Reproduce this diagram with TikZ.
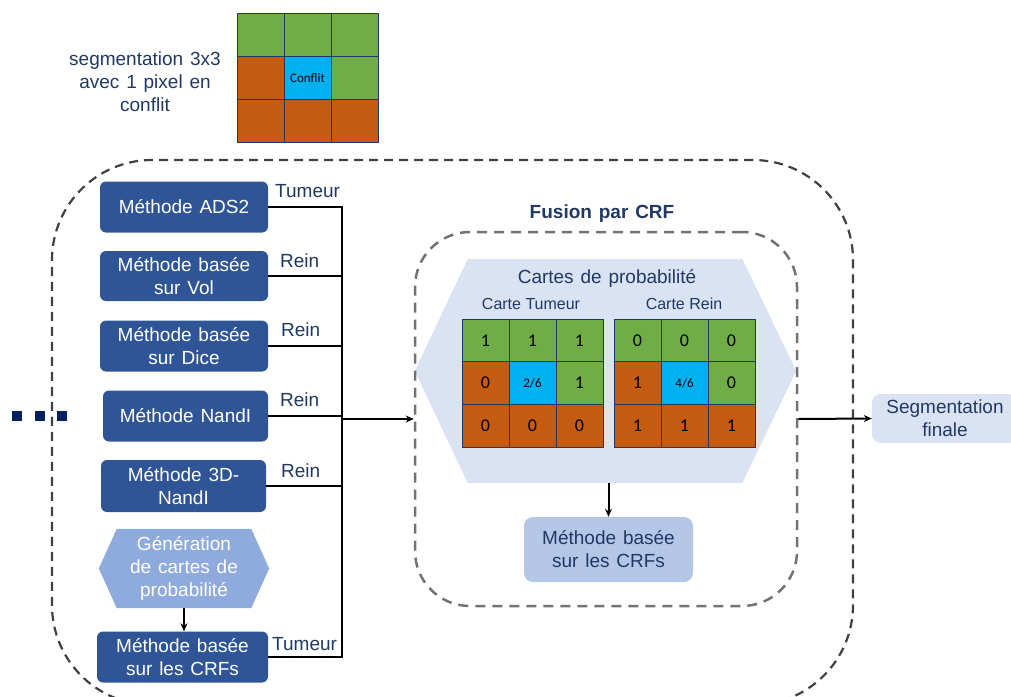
\documentclass[tikz,border=0pt]{standalone}
\usepackage{fontspec}
\setmainfont{Liberation Sans}
\newfontfamily\calib{Carlito}
\usetikzlibrary{arrows.meta,backgrounds}
\definecolor{navy}{HTML}{1F3864}
\definecolor{dotnavy}{HTML}{002060}
\definecolor{boxblue}{HTML}{2F5597}
\definecolor{genblue}{HTML}{8FAADC}
\definecolor{paleblue}{HTML}{DAE3F3}
\definecolor{midblue}{HTML}{B4C7E7}
\definecolor{cgreen}{HTML}{70AD47}
\definecolor{corange}{HTML}{C55A11}
\definecolor{ccyan}{HTML}{00B0F0}
\definecolor{gridline}{HTML}{203864}
\definecolor{outerdash}{HTML}{404040}
\definecolor{innerdash}{HTML}{767171}
\newcommand\frs{\fontsize{13}{13}\selectfont}
\newcommand\tumfrac{{\frs 2/6}}
\newcommand\reinfrac{{\frs 4/6}}
\newcommand\conf{{\frs Conflit}}
\newcommand\bigsz{\fontsize{19}{23}\selectfont\spaceskip=0.36em\relax}
\tikzset{
  bigfont/.style={font=\bigsz},
  txt/.style={bigfont, text=navy, inner sep=0pt},
  method/.style={rounded corners=6pt, fill=boxblue, text=white, bigfont, align=center, inner sep=0pt},
  gen/.style={text=white, bigfont, align=center, inner sep=0pt, minimum width=170pt, minimum height=79pt},
  lbl/.style={bigfont, text=navy, anchor=base west, inner sep=0pt},
  wire/.style={line width=2pt, black},
  arr/.style={wire, -{Stealth[length=8pt,width=7pt]}},
  cell/.style={draw=gridline, line width=1pt, minimum width=47pt, minimum height=42.67pt, inner sep=0pt, text=black},
  lightbox/.style={rounded corners=9pt, text=navy, bigfont, align=center, inner sep=0pt},
  digit/.style={inner sep=0pt, font=\calib\fontsize{18}{18}\selectfont},
}
\begin{document}
\begin{tikzpicture}[x=1pt,y=-1pt]
\useasboundingbox (0,0) rectangle (1011,696);
\clip (0,0) rectangle (1011,696);

% example grid and the two probability grids
\foreach \g/\x/\y in {s/237/14, t/462/319, r/614/319}{
  \foreach \r/\c/\col in {1/1/cgreen,1/2/cgreen,1/3/cgreen,2/1/corange,2/2/ccyan,2/3/cgreen,3/1/corange,3/2/corange,3/3/corange}{
    \node[cell, fill=\col] (\g\r\c) at ({\x+23.5+47*(\c-1)}, {\y+21.33+42.67*(\r-1)}) {};
  }
}
\node[txt, align=center] (segtxt) at (145,82) {segmentation 3x3\\avec 1 pixel en\\conflit};
\node[inner sep=0pt] (conftxt) at (s22) {\calib\conf};

\foreach \r/\c/\v in {1/1/1,1/2/1,1/3/1,2/1/0,2/2/\tumfrac,2/3/1,3/1/0,3/2/0,3/3/0}{
  \node[digit] (tv\r\c) at (t\r\c) {\v};
}
\foreach \r/\c/\v in {1/1/0,1/2/0,1/3/0,2/1/1,2/2/\reinfrac,2/3/0,3/1/1,3/2/1,3/3/1}{
  \node[digit] (rv\r\c) at (r\r\c) {\v};
}

% outer dashed frame
\node[draw=outerdash, line width=2.2pt, dash pattern=on 9pt off 6pt, rounded corners=100pt,
      minimum width=801pt, minimum height=545pt, inner sep=0pt] (outer) at (452.5,432.5) {};

% dots
\foreach \i/\x in {1/17,2/40,3/62}{
  \node[fill=dotnavy, minimum size=10pt, inner sep=0pt] (dot\i) at (\x,416) {};
}

% method boxes
\node[method, minimum width=168pt, minimum height=51pt] (ads) at (184,207) {Méthode ADS2};
\node[method, minimum width=168pt, minimum height=50pt] (vol) at (184,276) {Méthode basée\\sur Vol};
\node[method, minimum width=168pt, minimum height=51pt] (dice) at (184,346) {Méthode basée\\sur Dice};
\node[method, minimum width=165pt, minimum height=51pt] (nandi) at (185.5,416) {Méthode NandI};
\node[method, minimum width=165pt, minimum height=52pt] (nandi3) at (183.5,486) {Méthode 3D-\\NandI};
\node[gen] (gen) at (184,568.5) {Génération\\de cartes de\\probabilité};
\node[method, minimum width=171pt, minimum height=51pt] (crfl) at (182.5,657) {Méthode basée\\sur les CRFs};

% labels
\node[lbl] (l1) at (275,197) {Tumeur};
\node[lbl] (l2) at (280,267) {Rein};
\node[lbl] (l3) at (281,336) {Rein};
\node[lbl] (l4) at (280,406) {Rein};
\node[lbl] (l5) at (281,477) {Rein};
\node[lbl] (l6) at (272,650) {Tumeur};

% fusion block
\node[txt, font=\bfseries\bigsz] (fustitle) at (602,214) {Fusion par CRF};
\node[draw=innerdash, line width=2.5pt, dash pattern=on 10pt off 7pt, rounded corners=55pt,
      minimum width=382pt, minimum height=374pt, inner sep=0pt] (fusion) at (606,419) {};
\node[minimum width=381pt, minimum height=224pt, inner sep=0pt] (cartes) at (605.5,371) {};
\node[txt, anchor=base] (cartitle) at (607,283) {Cartes de probabilité};
\node[txt, anchor=base, font=\fontsize{16}{19}\selectfont] (ctum) at (531,309) {Carte Tumeur};
\node[txt, anchor=base, font=\fontsize{16}{19}\selectfont] (crein) at (684,309) {Carte Rein};
\node[lightbox, fill=midblue, minimum width=169pt, minimum height=65pt] (crfin) at (608.5,549.5) {Méthode basée\\sur les CRFs};
\node[lightbox, fill=paleblue, minimum width=146pt, minimum height=49pt] (segfin) at (945,418.5) {Segmentation\\finale};

% connectors
\coordinate (bus) at (342,419);
\draw[wire] (ads.east) -| (crfl.east -| bus) -- (crfl.east);
\draw[wire] (vol.east) -- (vol.east -| bus);
\draw[wire] (dice.east) -- (dice.east -| bus);
\draw[wire] (nandi.east) -- (nandi.east -| bus);
\draw[wire] (nandi3.east) -- (nandi3.east -| bus);
\draw[arr] (bus) -- (fusion.west);
\draw[arr] (gen.south) -- (gen.south |- crfl.north);
\draw[arr] (crfin.north |- cartes.south) -- (crfin.north);
\draw[arr] (fusion.east) -- (segfin.west);

% hexagon fills
\begin{scope}[on background layer]
\fill[paleblue] (cartes.west) -- ([xshift=53pt]cartes.north west) -- ([xshift=-54pt]cartes.north east)
  -- (cartes.east) -- ([xshift=-54pt]cartes.south east) -- ([xshift=53pt]cartes.south west) -- cycle;
\fill[genblue] (gen.west) -- ([xshift=18pt]gen.north west) -- ([xshift=-18pt]gen.north east)
  -- (gen.east) -- ([xshift=-18pt]gen.south east) -- ([xshift=18pt]gen.south west) -- cycle;
\end{scope}
\end{tikzpicture}
\end{document}
